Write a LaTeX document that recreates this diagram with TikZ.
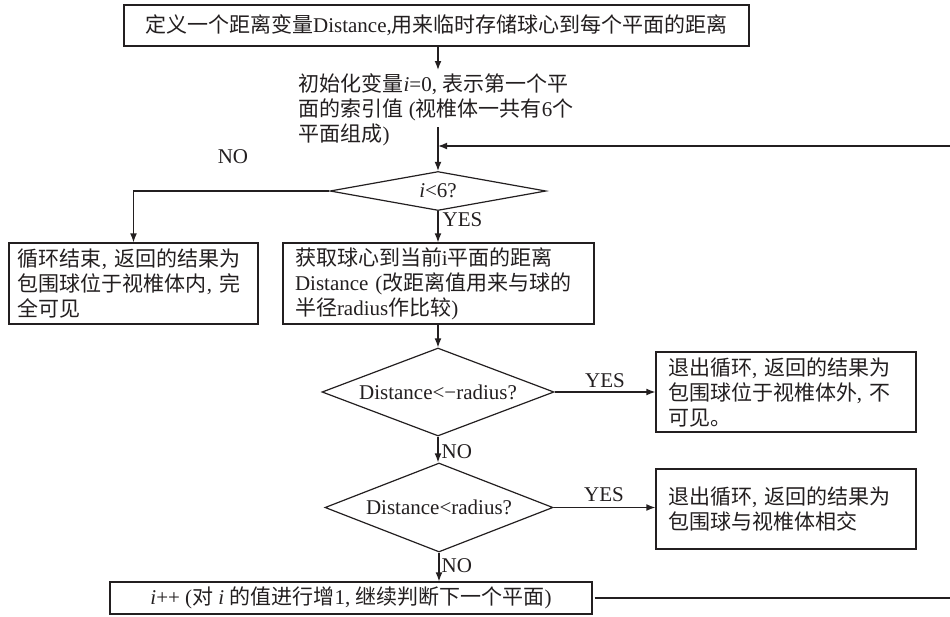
\documentclass[tikz,border=0pt]{standalone}
\usepackage{fontspec}
\setmainfont{Liberation Serif}
\newfontfamily\cjkfont{Noto Sans CJK SC}
\newcommand\zh[1]{{\cjkfont #1}}
\usetikzlibrary{shapes.geometric,arrows.meta}
\definecolor{ink}{RGB}{35,31,32}
\begin{document}
\begin{tikzpicture}[x=0.5pt,y=-0.5pt,
  font=\fontsize{10.5}{12.5}\selectfont,
  line width=0.6pt, color=ink,
  box/.style={draw, rectangle, inner ysep=0pt, align=left},
  dec/.style={draw, diamond, inner sep=0pt},
  arr/.style={-{Latex[length=4.5pt,width=3.4pt]}},
  lab/.style={inner sep=0pt}]
\useasboundingbox[fill=white] (0,0) rectangle (950,617);

% boxes
\node[box, align=center, minimum width=312.5pt, minimum height=20.5pt] (top) at (436.5,25.5)
  {\zh{定义一个距离变量}Distance,\zh{用来临时存储球心到每个平面的距离}};
\node[lab, align=left, anchor=west] (init) at (298,110)
  {\zh{初始化变量}\textit{i}=0, \zh{表示第一个平}\\
   \zh{面的索引值} (\zh{视椎体一共有}6\zh{个}\\
   \zh{平面组成})};
\node[dec, aspect=5.5, minimum width=108pt, minimum height=19.5pt] (d1) at (438,191) {\textit{i}<6?};
\node[box, text width=115.5pt, inner xsep=4.5pt, minimum height=40.5pt] (lb) at (133.5,283.5)
  {\zh{循环结束}, \zh{返回的结果为}\\ \zh{包围球位于视椎体内}, \zh{完}\\ \zh{全可见}};
\node[box, text width=143.5pt, inner xsep=6pt, minimum height=40.5pt] (mb) at (438.5,283.5)
  {\zh{获取球心到当前}i\zh{平面的距离}\\ Distance (\zh{改距离值用来与球的}\\ \zh{半径}radius\zh{作比较})};
\node[dec, aspect=2.64, minimum width=116pt, minimum height=44pt] (d2) at (438,392) {Distance<−radius?};
\node[box, text width=118pt, inner xsep=6pt, minimum height=40pt] (r1) at (786,392)
  {\zh{退出循环}, \zh{返回的结果为}\\ \zh{包围球位于视椎体外}, \zh{不}\\ \zh{可见。}};
\node[dec, aspect=2.64, minimum width=114pt, minimum height=44.5pt] (d3) at (439,507.5) {Distance<radius?};
\node[box, text width=118pt, inner xsep=6pt, minimum height=40pt] (r2) at (786,509)
  {\zh{退出循环}, \zh{返回的结果为}\\ \zh{包围球与视椎体相交}};
\node[box, align=center, minimum width=241pt, minimum height=16pt] (ib) at (351,598)
  {\textit{i}++ (\zh{对} \textit{i} \zh{的值进行增}1, \zh{继续判断下一个平面})};

% labels
\node[lab] (no1) at (233,157) {NO};
\node[lab, anchor=west] (yes1) at (442,220) {YES};
\node[lab] (yes2) at (605,381) {YES};
\node[lab, anchor=west] (no2) at (441,452) {NO};
\node[lab] (yes3) at (604,495) {YES};
\node[lab, anchor=west] (no3) at (441,566) {NO};

% helper coordinates
\coordinate (initT) at (438,70);
\coordinate (initB) at (438,127);
\coordinate (fbJ) at (438,146);
\coordinate (fbR) at (952,598);
\coordinate (fbT) at (952,146);

% connectors
\draw[arr] (top.south -| initT) -- (initT);
\draw[arr] (initB) -- (d1.north);
\draw[arr] (d1.west) -| (lb.north);
\draw[arr] (d1.south) -- (d1.south |- mb.north);
\draw[arr] (mb.south -| d2.north) -- (d2.north);
\draw[arr] (d2.east) -- (d2.east -| r1.west);
\draw[arr] (d2.south) -- (d3.north -| d2.south);
\draw[arr] (d3.east) -- (d3.east -| r2.west);
\draw[arr] (d3.south) -- (d3.south |- ib.north);
\draw[arr, shorten <=1pt] (ib.east) -- (fbR) -- (fbT) -- (fbJ);
\end{tikzpicture}
\end{document}
